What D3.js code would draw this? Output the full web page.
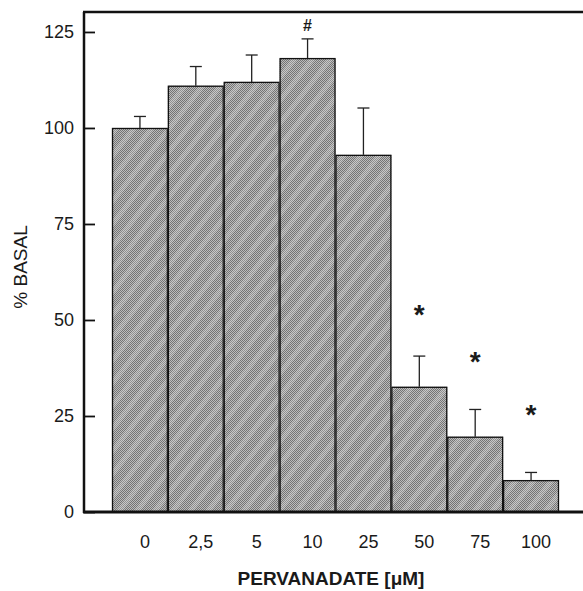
<!DOCTYPE html>
<html>
<head>
<meta charset="utf-8">
<script src="https://cdn.jsdelivr.net/npm/d3@7"></script>
<style>
  html, body { margin: 0; padding: 0; background: #fff; }
  svg { display: block; }
  text { font-family: "Liberation Sans", Arial, Helvetica, sans-serif; fill: #1a1a1a; }
</style>
</head>
<body>
<svg id="chart" width="583" height="591"></svg>
<script>
// ---- data ----
const categories = ["0", "2,5", "5", "10", "25", "50", "75", "100"];
const means      = [100, 111, 112, 118.2, 93, 32.6, 19.6, 8.3];
const errTop     = [103, 116, 119, 123.2, 105.2, 40.6, 26.7, 10.3];
const marks      = ["", "", "", "#", "", "*", "*", "*"];
const markY      = [null, null, null, 126.8, null, 52.9, 40.6, 26.8];
const yTicks     = [0, 25, 50, 75, 100, 125];

// ---- layout ----
const svg = d3.select("#chart");
const axisX = 84, plotTop = 12, plotBottom = 512, plotRight = 583;

const x = d3.scaleBand().domain(categories).range([112, 559]).padding(0);
const y = d3.scaleLinear().domain([0, 130.2]).range([plotBottom, plotTop]);

// patterns
const defs = svg.append("defs");
const checker = defs.append("pattern")
  .attr("id", "checker").attr("patternUnits", "userSpaceOnUse")
  .attr("width", 2).attr("height", 2);
checker.append("rect").attr("width", 2).attr("height", 2).attr("fill", "#bcbcbc");
checker.append("rect").attr("width", 1).attr("height", 1).attr("fill", "#747474");
checker.append("rect").attr("x", 1).attr("y", 1).attr("width", 1).attr("height", 1).attr("fill", "#747474");

const stripes = defs.append("pattern")
  .attr("id", "stripes").attr("patternUnits", "userSpaceOnUse")
  .attr("width", 14).attr("height", 14)
  .attr("patternTransform", "rotate(38)");
stripes.append("rect").attr("x", 0).attr("y", 0).attr("width", 5).attr("height", 14)
  .attr("fill", "#ffffff").attr("opacity", 0.2);

// bars
const bars = svg.append("g");
categories.forEach((c, i) => {
  const bx = x(c), bw = x.bandwidth(), by = y(means[i]), bh = y(0) - y(means[i]);
  bars.append("rect").attr("x", bx).attr("y", by).attr("width", bw).attr("height", bh)
    .attr("fill", "url(#checker)");
  bars.append("rect").attr("x", bx).attr("y", by).attr("width", bw).attr("height", bh)
    .attr("fill", "url(#stripes)");
  bars.append("rect").attr("x", bx + 0.5).attr("y", by + 0.5).attr("width", bw - 1).attr("height", bh - 0.5)
    .attr("fill", "none").attr("stroke", "#111").attr("stroke-width", 1.3);
});

// error bars (upper only)
const eb = svg.append("g").attr("stroke", "#222").attr("stroke-width", 1.3);
categories.forEach((c, i) => {
  const cx = x(c) + x.bandwidth() / 2;
  eb.append("line").attr("x1", cx).attr("x2", cx).attr("y1", y(means[i])).attr("y2", y(errTop[i]));
  eb.append("line").attr("x1", cx - 6).attr("x2", cx + 6).attr("y1", y(errTop[i])).attr("y2", y(errTop[i]));
});

// significance marks
categories.forEach((c, i) => {
  if (!marks[i]) return;
  const cx = x(c) + x.bandwidth() / 2;
  if (marks[i] === "*") {
    svg.append("text").attr("x", cx).attr("y", y(markY[i]) + 15)
      .attr("text-anchor", "middle").attr("font-size", 28).attr("font-weight", "bold").text("*");
  } else {
    svg.append("text").attr("x", cx).attr("y", y(markY[i]) + 6)
      .attr("text-anchor", "middle").attr("font-size", 16).attr("font-weight", "bold").text("#");
  }
});

// y axis
const yAxis = d3.axisRight(y).tickValues(yTicks).tickSize(11).tickFormat("");
const gy = svg.append("g").attr("transform", `translate(${axisX},0)`).call(yAxis);
gy.select(".domain").remove();
gy.selectAll(".tick line").attr("stroke", "#111").attr("stroke-width", 1.8);
svg.append("g").selectAll("text").data(yTicks).join("text")
  .attr("x", 74).attr("y", d => y(d)).attr("dy", "0.35em")
  .attr("text-anchor", "end").attr("font-size", 18).text(d => d);

// frame lines
svg.append("line").attr("x1", axisX).attr("x2", axisX).attr("y1", plotTop).attr("y2", plotBottom + 1)
  .attr("stroke", "#111").attr("stroke-width", 2.5);
svg.append("line").attr("x1", axisX - 1).attr("x2", plotRight).attr("y1", plotTop).attr("y2", plotTop)
  .attr("stroke", "#111").attr("stroke-width", 2.5);
svg.append("line").attr("x1", axisX - 1).attr("x2", plotRight).attr("y1", plotBottom).attr("y2", plotBottom)
  .attr("stroke", "#111").attr("stroke-width", 3);

// x tick labels
svg.append("g").selectAll("text").data(categories).join("text")
  .attr("x", d => x(d) + x.bandwidth() / 2 + 5).attr("y", 542).attr("dy", "0.35em")
  .attr("text-anchor", "middle").attr("font-size", 18).text(d => d);

// axis titles
svg.append("text").attr("x", 331).attr("y", 585)
  .attr("text-anchor", "middle").attr("font-size", 19).attr("font-weight", "bold")
  .text("PERVANADATE [\u03BCM]");
svg.append("text").attr("transform", "translate(20,267) rotate(-90)").attr("dy", "0.35em")
  .attr("text-anchor", "middle").attr("font-size", 19).text("% BASAL");
</script>
</body>
</html>
